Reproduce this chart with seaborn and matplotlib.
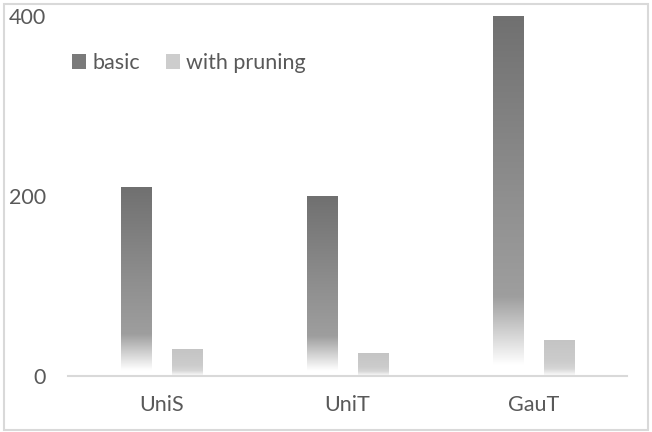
import numpy as np
import pandas as pd
import matplotlib
matplotlib.use("Agg")
import matplotlib.pyplot as plt
import seaborn as sns
from matplotlib.patches import Patch, Rectangle

categories = ["UniS", "UniT", "GauT"]
basic = [210, 200, 400]
with_pruning = [30, 25, 39]
series_names = ["basic", "with pruning"]
y_ticks = [0, 200, 400]

df = pd.DataFrame({
    "category": categories * 2,
    "value": basic + with_pruning,
    "series": [series_names[0]] * 3 + [series_names[1]] * 3,
})

sns.set_theme(style="white")
plt.rcParams["font.family"] = ["Lato", "DejaVu Sans"]
TXT = "#595959"
FS = 15.5

fig = plt.figure(figsize=(6.52, 4.32), dpi=100)
ax = fig.add_axes([68/652, (432-376)/432, 559/652, 360/432])

sns.barplot(data=df, x="category", y="value", hue="series", order=categories,
            hue_order=series_names, width=0.548, gap=0.41, ax=ax,
            palette=["#808080", "#cccccc"], legend=False, errorbar=None)

def grad_colors(stops, n=256):
    t = np.linspace(0, 1, n)
    pos = [s[0] for s in stops]
    val = [s[1] for s in stops]
    g = np.interp(t, pos, val)
    return np.repeat(g[:, None, None], 3, axis=2) * np.ones((n, 1, 3))

grad_basic = grad_colors([(0, 0.44), (0.5, 0.56), (0.78, 0.62), (0.97, 1.0), (1.0, 1.0)])
grad_prune = grad_colors([(0, 0.77), (0.6, 0.80), (0.8, 0.84), (1.0, 1.0)])

bars = [p for p in ax.patches if isinstance(p, Rectangle) and p.get_height() > 0]
for p in bars:
    x, w, h = p.get_x(), p.get_width(), p.get_height()
    fc = p.get_facecolor()
    g = grad_basic if fc[0] < 0.6 else grad_prune
    ax.imshow(g, extent=[x, x + w, 0, h], aspect="auto", zorder=2, interpolation="bilinear")
    p.set_visible(False)

ax.set_xlim(-0.5, 2.5)
ax.set_ylim(0, 400)
ax.set_yticks(y_ticks)
ax.set_xlabel("")
ax.set_ylabel("")
for s in ["top", "right", "left"]:
    ax.spines[s].set_visible(False)
ax.spines["bottom"].set_color("#d9d9d9")
ax.spines["bottom"].set_linewidth(1.5)
ax.tick_params(axis="both", length=0, labelsize=FS, colors=TXT)
ax.tick_params(axis="y", pad=16)
ax.tick_params(axis="x", pad=14)
ax.grid(False)
ax.set_facecolor("none")

handles = [Patch(facecolor="#7a7a7a", edgecolor="none"), Patch(facecolor="#cdcdcd", edgecolor="none")]
leg = fig.legend(handles, series_names, loc="center left", bbox_to_anchor=(72/652, 1 - 63/432),
                 ncol=2, frameon=False, fontsize=FS, handlelength=0.65, handleheight=0.7,
                 handletextpad=0.3, columnspacing=1.2, borderaxespad=0, borderpad=0)
for t in leg.get_texts():
    t.set_color(TXT)

fig.patches.append(Rectangle((4/652, 2/432), 644/652, 426/432, transform=fig.transFigure,
                             fill=False, edgecolor="#d9d9d9", linewidth=1.5))

fig.savefig("out.png", dpi=100, facecolor="white")
